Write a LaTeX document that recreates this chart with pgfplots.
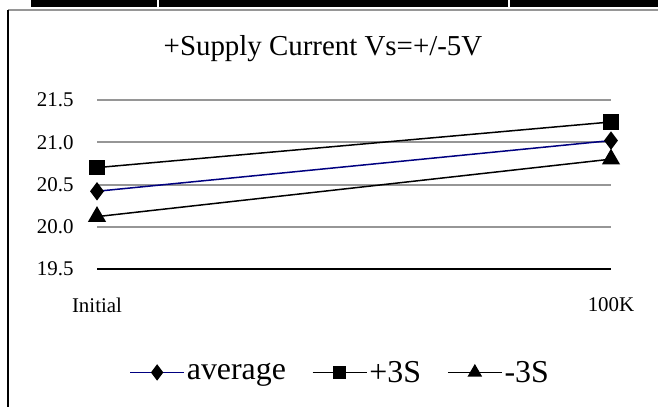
\documentclass[border=0pt]{standalone}
\usepackage{fontspec}
\setmainfont{Liberation Serif}
\usepackage{pgfplots}
\pgfplotsset{compat=1.18}
\definecolor{navy}{RGB}{0,0,128}
\definecolor{gridgray}{RGB}{150,150,150}
\begin{document}
\begin{tikzpicture}[x=1bp,y=1bp]
\path[use as bounding box] (0,0) rectangle (658,407);
% frame bits of the surrounding sheet
\fill[black] (31,400) rectangle (658,407);
\fill[white] (156.5,400) rectangle (158.5,407);
\fill[white] (507.5,400) rectangle (509.5,407);
\draw[gridgray, line width=2bp] (8,397) -- (658,397);
\draw[black, line width=1.8bp] (8,397) -- (8,0);
\node[anchor=base, font=\fontsize{29}{29}\selectfont] at (323,352) {+Supply Current Vs=+/-5V};
\begin{axis}[
    at={(97bp,138bp)}, anchor=south west,
    scale only axis, width=514bp, height=169bp,
    xmin=0, xmax=1, ymin=19.5, ymax=21.5,
    clip=false,
    xtick={0,1}, xticklabels={Initial,100K},
    ytick={19.5,20,20.5,21,21.5},
    yticklabel style={/pgf/number format/fixed, /pgf/number format/fixed zerofill,
                      /pgf/number format/precision=1},
    /pgf/number format/assume math mode=true,
    major tick length=0pt,
    tick label style={font=\fontsize{21}{21}\selectfont},
    xticklabel style={anchor=center, yshift=-36bp},
    yticklabel style={anchor=east, xshift=-20bp},
    axis x line=bottom, axis y line=left,
    axis line style={-},
    x axis line style={black, line width=1.2bp},
    y axis line style={draw=none},
    ymajorgrids, grid style={gridgray, line width=2bp},
    legend columns=3,
    legend style={at={(0.473,-0.612)}, anchor=center, draw=none, fill=none,
                  font=\fontsize{32}{32}\selectfont,
                  /tikz/every even column/.append style={column sep=24bp}},
    legend image code/.code={\draw[mark repeat=2, mark phase=2, #1]
        plot coordinates {(0bp,0bp) (27bp,0bp) (54bp,0bp)};},
]
\addplot[navy, line width=1.5bp, mark=diamond*, mark size=8bp,
         mark options={black, fill=black}, forget plot]
    coordinates {(0,20.42) (1,21.02)};
\addplot[black, line width=1.5bp, mark=square*, mark size=7bp, forget plot]
    coordinates {(0,20.70) (1,21.24)};
\addplot[black, line width=1.5bp, mark=triangle*, mark size=9bp, forget plot]
    coordinates {(0,20.12) (1,20.80)};
\addlegendimage{navy, line width=1.5bp, mark=diamond*, mark size=7bp, mark options={black, fill=black}}
\addlegendentry{average}
\addlegendimage{black, line width=1.5bp, mark=square*, mark size=5.5bp}
\addlegendentry{+3S}
\addlegendimage{black, line width=1.5bp, mark=triangle*, mark size=7bp}
\addlegendentry{-3S}
\end{axis}
\end{tikzpicture}
\end{document}
